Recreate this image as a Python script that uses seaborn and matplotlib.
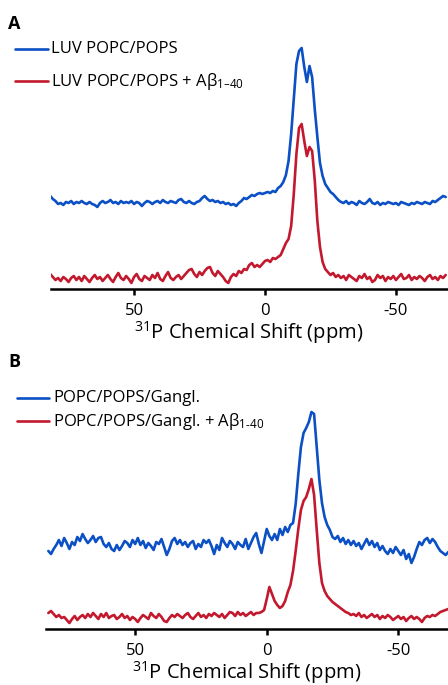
import numpy as np
import pandas as pd
import matplotlib
matplotlib.use('Agg')
import matplotlib.pyplot as plt
import seaborn as sns

# chemical shift grid (ppm), one point per ppm
ppm = np.arange(83, -70, -1)

# panel A: LUV POPC/POPS (heights, arbitrary units)
a_blue = [94,
          93, 90, 88, 85, 86, 84, 87, 86, 88, 85,
          87, 86, 88, 86, 85, 87, 85, 84, 82, 86,
          88, 86, 87, 89, 86, 87, 85, 88, 86, 87,
          86, 88, 85, 87, 86, 83, 86, 88, 87, 85,
          87, 88, 86, 89, 87, 86, 88, 87, 86, 89,
          90, 87, 86, 88, 86, 85, 87, 88, 91, 93,
          90, 88, 89, 87, 88, 86, 87, 85, 86, 84,
          85, 83, 86, 88, 91, 90, 92, 94, 93, 95,
          96, 95, 96, 97, 96, 98, 97, 101, 103, 107,
          114, 128, 155, 190, 225, 238, 241, 222, 207, 223,
          212, 180, 152, 126, 113, 105, 101, 97, 95, 92, 89,
          87, 86, 88, 85, 87, 86, 84, 88, 86, 85,
          87, 90, 86, 85, 87, 84, 86, 85, 87, 86,
          85, 86, 84, 87, 86, 85, 84, 86, 85, 87,
          86, 85, 87, 86, 85, 88, 87, 89, 91, 93, 92]
a_red = [14,
         15, 12, 9, 11, 8, 12, 10, 7, 11, 13,
         9, 12, 8, 13, 10, 7, 11, 14, 10, 12,
         8, 11, 14, 10, 7, 12, 16, 11, 9, 13,
         10, 6, 12, 15, 10, 8, 13, 11, 9, 14,
         11, 16, 10, 8, 13, 17, 11, 9, 12, 14,
         10, 13, 16, 19, 20, 15, 12, 17, 14, 18,
         21, 22, 16, 13, 18, 15, 12, 8, 6, 12,
         15, 13, 18, 16, 20, 19, 24, 26, 22, 24,
         22, 25, 28, 29, 27, 31, 30, 32, 34, 40,
         46, 50, 63, 95, 135, 161, 165, 148, 133, 142,
         138, 109, 68, 42, 27, 20, 17, 14, 16, 12, 14,
         11, 13, 9, 14, 12, 10, 8, 13, 11, 15,
         10, 12, 7, 9, 14, 11, 13, 8, 12, 10,
         13, 9, 12, 15, 10, 11, 14, 9, 12, 10,
         13, 11, 8, 12, 14, 10, 12, 9, 13, 11, 14]

# panel B: POPC/POPS/Gangl.
b_blue = [78, 75, 80, 84, 89, 83, 91, 86, 80, 87,
          84, 92, 88, 95, 90, 86, 89, 93, 87, 91,
          92, 85, 82, 86, 80, 78, 84, 79, 83, 88,
          86, 82, 89, 85, 91, 84, 88, 81, 86, 83,
          79, 87, 85, 90, 82, 74, 80, 88, 91, 85,
          89, 84, 87, 82, 86, 88, 80, 85, 82, 89,
          86, 89, 83, 75, 84, 79, 91, 86, 82, 88,
          85, 80, 87, 84, 82, 90, 80, 86, 92, 96,
          85, 76, 88, 100, 93, 89, 95, 89, 100, 94,
          102, 97, 104, 106, 125, 155, 182, 196, 201, 207,
          217, 215, 182, 149, 126, 112, 104, 99, 92, 90,
          93, 87, 91, 85, 89, 84, 88, 83, 86, 80,
          85, 90, 84, 88, 82, 86, 79, 83, 78, 75,
          80, 76, 82, 78, 74, 79, 70, 75, 66, 72,
          80, 87, 84, 89, 91, 86, 90, 87, 82, 78,
          76, 74, 77]
b_red = [16, 18, 15, 12, 14, 11, 12, 9, 6, 10,
         13, 9, 12, 14, 11, 15, 12, 16, 13, 10,
         15, 12, 16, 11, 13, 14, 10, 12, 15, 11,
         13, 9, 12, 10, 7, 11, 14, 12, 10, 16,
         13, 11, 15, 12, 8, 7, 11, 14, 12, 15,
         13, 11, 14, 16, 12, 10, 13, 16, 12, 14,
         11, 15, 13, 16, 14, 12, 15, 11, 14, 17,
         16, 13, 17, 14, 16, 13, 15, 17, 14, 16,
         16, 17, 19, 30, 42, 35, 28, 24, 21, 23,
         28, 37, 44, 58, 78, 100, 119, 128, 132, 140,
         150, 134, 99, 66, 46, 38, 33, 30, 27, 25,
         23, 21, 19, 17, 16, 14, 15, 13, 16, 12,
         14, 11, 13, 15, 12, 14, 10, 13, 11, 14,
         12, 9, 11, 13, 10, 12, 8, 11, 13, 10,
         12, 10, 7, 11, 13, 12, 14, 13, 15, 17,
         18, 19, 20]

a_labels = ['LUV POPC/POPS', 'LUV POPC/POPS + A\u03b2$_{1\u201340}$']
b_labels = ['POPC/POPS/Gangl.', 'POPC/POPS/Gangl. + A\u03b2$_{1\u201040}$']
ticks = [50, 0, -50]
blue = '#0b50c4'
red = '#c3192e'

sns.set_style('white')
plt.rcParams['font.family'] = ['Open Sans', 'DejaVu Sans']
plt.rcParams['mathtext.default'] = 'regular'
plt.rcParams['text.color'] = 'black'
plt.rcParams['axes.labelcolor'] = 'black'
plt.rcParams['xtick.color'] = 'black'


def panel(ax, y1, y2, labels, xlim, ylim):
    df = pd.DataFrame({'ppm': np.concatenate([ppm, ppm]),
                       'I': np.concatenate([y1, y2]),
                       'sample': [labels[0]] * len(ppm) + [labels[1]] * len(ppm)})
    sns.lineplot(data=df, x='ppm', y='I', hue='sample', palette=[blue, red],
                 estimator=None, linewidth=1.9, ax=ax, legend=False)
    ax.set_xlim(*xlim)
    ax.set_ylim(*ylim)
    ax.set_xticks(ticks)
    ax.set_xticklabels([str(t) for t in ticks], fontsize=12)
    ax.set_yticks([])
    ax.set_ylabel('')
    ax.set_xlabel('$^{31}$P Chemical Shift (ppm)', fontsize=14.5, labelpad=0)
    sns.despine(ax=ax, left=True)
    ax.spines['bottom'].set_linewidth(1.8)
    ax.spines['bottom'].set_color('black')
    ax.tick_params(axis='x', direction='out', length=4, width=1.8, pad=6, bottom=True)


fig = plt.figure(figsize=(4.48, 6.85), dpi=100)
axA = fig.add_axes([51 / 448, (685 - 289) / 685, 396 / 448, 250 / 685])
axB = fig.add_axes([46 / 448, (685 - 629) / 685, 402 / 448, 229 / 685])
axA.patch.set_alpha(0)
axB.patch.set_alpha(0)

panel(axA, a_blue, a_red, a_labels, (81.7, -69.5), (0, 250))
panel(axB, b_blue, b_red, b_labels, (83.9, -68.9), (0, 229))

# legends
for ys, xs, labels in [((49, 81), (15, 48, 51), a_labels),
                       ((398, 421), (17, 49, 53), b_labels)]:
    for y, lab, col in zip(ys, labels, [blue, red]):
        fy = 1 - y / 685
        fig.add_artist(plt.Line2D([xs[0] / 448, xs[1] / 448], [fy, fy],
                                  color=col, linewidth=1.9))
        fig.text(xs[2] / 448, fy, lab, fontsize=12, va='center', ha='left')

fig.text(8 / 448, 1 - 24 / 685, 'A', fontsize=13, fontweight='bold', va='center')
fig.text(8 / 448, 1 - 362 / 685, 'B', fontsize=13, fontweight='bold', va='center')

fig.savefig('out.png', dpi=100)
